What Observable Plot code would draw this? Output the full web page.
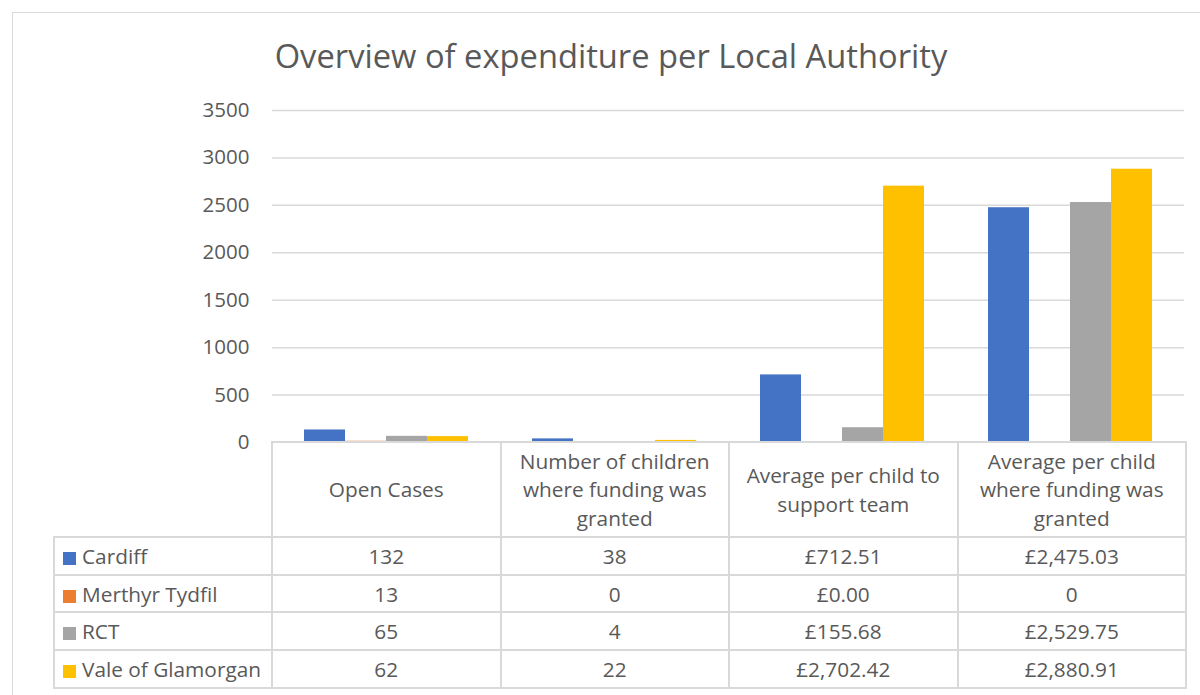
<!DOCTYPE html>
<html>
<head>
<meta charset="utf-8">
<script src="https://cdn.jsdelivr.net/npm/d3@7"></script>
<script src="https://cdn.jsdelivr.net/npm/@observablehq/plot@0.6"></script>
<style>
  body { margin: 0; background: #fff; font-family: "Open Sans", sans-serif; color: #595959; }
  #wrap { position: relative; width: 1200px; height: 695px; overflow: hidden; background: #fff; }
  #frame { position: absolute; left: 12px; top: 12px; width: 1400px; height: 900px; border: 1.5px solid #d9d9d9; box-sizing: border-box; }
  #title { position: absolute; left: 0; width: 1222px; top: 33px; text-align: center; font-size: 32.7px; line-height: 46px; color: #595959; white-space: nowrap; }
  #chart { position: absolute; left: 0; top: 0; }
  #tbl { position: absolute; left: 53px; top: 441px; border-collapse: collapse; table-layout: fixed; font-size: 20.8px; color: #595959; }
  #tbl td { border: 2px solid #d9d9d9; text-align: center; vertical-align: middle; padding: 0; box-sizing: border-box; white-space: pre-line; }
  #tbl td.blank { border: none; border-right: 2px solid #d9d9d9; }
  #tbl tr.head td { height: 95px; line-height: 28.5px; }
  #tbl tr.row td { height: 37.7px; line-height: 34px; }
  #tbl td.lab { text-align: left; padding-left: 8px; white-space: nowrap; }
  .sw { display: inline-block; width: 13px; height: 13px; margin-right: 6px; vertical-align: -1px; }
</style>
</head>
<body>
<div id="wrap">
  <div id="frame"></div>
  <div id="title">Overview of expenditure per Local Authority</div>
  <div id="chart"></div>
  <table id="tbl"></table>
</div>
<script>
const categories = [
  "Open Cases",
  "Number of children where funding was granted",
  "Average per child to support team",
  "Average per child where funding was granted"
];
const headerLabels = [
  "Open Cases",
  "Number of children\nwhere funding was\ngranted",
  "Average per child to\nsupport team",
  "Average per child\nwhere funding was\ngranted"
];
const series = ["Cardiff", "Merthyr Tydfil", "RCT", "Vale of Glamorgan"];
const colors = ["#4472C4", "#ED7D31", "#A5A5A5", "#FFC000"];

const cardiff = [132, 38, 712.51, 2475.03];
const merthyr = [13, 0, 0, 0];
const rct = [65, 4, 155.68, 2529.75];
const vale = [62, 22, 2702.42, 2880.91];

const cardiffLabels = ["132", "38", "£712.51", "£2,475.03"];
const merthyrLabels = ["13", "0", "£0.00", "0"];
const rctLabels = ["65", "4", "£155.68", "£2,529.75"];
const valeLabels = ["62", "22", "£2,702.42", "£2,880.91"];

const yTicks = [0, 500, 1000, 1500, 2000, 2500, 3000, 3500];

const seriesValues = [cardiff, merthyr, rct, vale];
const seriesLabels = [cardiffLabels, merthyrLabels, rctLabels, valeLabels];

const rows = [];
series.forEach((s, i) => {
  categories.forEach((c, j) => {
    rows.push({ series: s, category: c, value: seriesValues[i][j] });
  });
});

const chart = Plot.plot({
  width: 1200,
  height: 472,
  marginTop: 110,
  marginBottom: 30,
  marginLeft: 271,
  marginRight: 15,
  style: { fontFamily: "'Open Sans', sans-serif", fontSize: "20.5px", color: "#595959", background: "transparent" },
  fx: { domain: categories, padding: 0, axis: null, label: null },
  x: { domain: series, paddingInner: 0, paddingOuter: 0.78, axis: null },
  y: { domain: [0, 3500], ticks: yTicks, label: null },
  color: { domain: series, range: colors },
  marks: [
    Plot.ruleY(yTicks.filter(d => d > 0), { stroke: "#d9d9d9", strokeWidth: 1.5 }),
    Plot.barY(rows, { fx: "category", x: "series", y: "value", fill: "series", inset: 0 }),
    Plot.axisY({ ticks: yTicks, tickSize: 0, tickPadding: 23, fontSize: 20.5, label: null, fill: "#595959", tickFormat: d => String(d) })
  ]
});
document.getElementById("chart").appendChild(chart);

// Data table
const tbl = document.getElementById("tbl");
const colgroup = document.createElement("colgroup");
[218, 228.5, 228.5, 228.5, 228.5].forEach(w => {
  const col = document.createElement("col");
  col.style.width = w + "px";
  colgroup.appendChild(col);
});
tbl.appendChild(colgroup);
tbl.style.width = (218 + 4 * 228.5) + "px";

const head = document.createElement("tr");
head.className = "head";
const blank = document.createElement("td");
blank.className = "blank";
head.appendChild(blank);
headerLabels.forEach(h => {
  const td = document.createElement("td");
  td.textContent = h;
  head.appendChild(td);
});
tbl.appendChild(head);

series.forEach((s, i) => {
  const tr = document.createElement("tr");
  tr.className = "row";
  const lab = document.createElement("td");
  lab.className = "lab";
  const sw = document.createElement("span");
  sw.className = "sw";
  sw.style.background = colors[i];
  lab.appendChild(sw);
  lab.appendChild(document.createTextNode(s));
  tr.appendChild(lab);
  seriesLabels[i].forEach(v => {
    const td = document.createElement("td");
    td.textContent = v;
    tr.appendChild(td);
  });
  tbl.appendChild(tr);
});
</script>
</body>
</html>
